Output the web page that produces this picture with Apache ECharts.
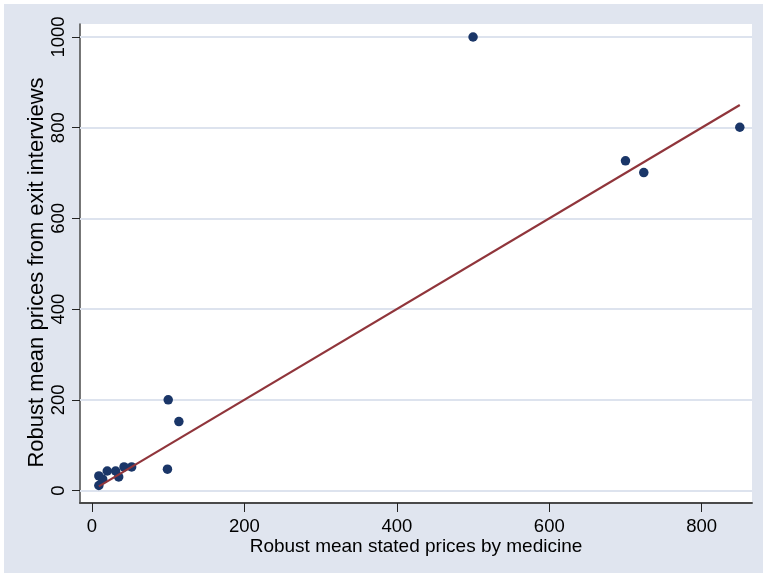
<!DOCTYPE html>
<html>
<head>
<meta charset="utf-8">
<script src="https://cdn.jsdelivr.net/npm/echarts@6/dist/echarts.min.js"></script>
<style>
html,body{margin:0;padding:0;background:#ffffff;}
#chart{width:765px;height:577px;}
</style>
</head>
<body>
<div id="chart"></div>
<script>
// Data
const statedPrices = [9, 9, 14, 20, 31, 35, 42, 52, 99, 100, 114, 500, 700, 724, 850];
const exitPrices   = [11, 32, 25, 43, 43, 30, 52, 52, 47, 200, 152, 1000, 727, 701, 801];
const lineX = [9, 850];           // 45-degree reference line (y = x) over the data range
const xTicks = [0, 200, 400, 600, 800];
const yTicks = [0, 200, 400, 600, 800, 1000];

const chart = echarts.init(document.getElementById('chart'), null, {renderer: 'canvas'});
const font = 'Liberation Sans, Arial, sans-serif';

const option = {
  backgroundColor: '#ffffff',
  animation: false,
  graphic: [{
    type: 'rect', z: -10, silent: true,
    shape: {x: 4, y: 4, width: 759, height: 569},
    style: {fill: '#e0e5ef'}
  }],
  grid: {
    left: 80, top: 24, width: 672, height: 479,
    show: true, backgroundColor: '#ffffff', borderWidth: 0
  },
  xAxis: {
    type: 'value', min: -15.75, max: 866,
    name: 'Robust mean stated prices by medicine',
    nameLocation: 'middle', nameGap: 34, nameMoveOverlap: false,
    nameTextStyle: {fontFamily: font, fontSize: 19, color: '#000'},
    axisLine: {show: true, onZero: false, lineStyle: {color: '#4a4a4a', width: 2}},
    axisTick: {show: true, inside: false, length: 9, customValues: xTicks, lineStyle: {color: '#222', width: 1}},
    axisLabel: {customValues: xTicks, margin: 14.5, fontFamily: font, fontSize: 18.5, color: '#000',
                formatter: v => String(v)},
    splitLine: {show: false}
  },
  yAxis: {
    type: 'value', min: -27.6, max: 1028.7,
    name: 'Robust mean prices from exit interviews',
    nameLocation: 'middle', nameGap: 32, nameRotate: 90, nameMoveOverlap: false,
    nameTextStyle: {fontFamily: font, fontSize: 22, color: '#000', padding: [0, 18, 0, 0]},
    axisLine: {show: true, onZero: false, lineStyle: {color: '#4a4a4a', width: 1.5}},
    axisTick: {show: true, inside: false, length: 8, customValues: yTicks, lineStyle: {color: '#222', width: 1}},
    axisLabel: {customValues: yTicks, rotate: 90, margin: 12, fontFamily: font, fontSize: 18.5, color: '#000',
                formatter: v => String(v)},
    splitLine: {show: false}
  },
  series: [
    {
      type: 'scatter', z: 3,
      symbol: 'circle', symbolSize: 9.5,
      itemStyle: {color: '#1a3668', opacity: 1},
      data: statedPrices.map((x, i) => [x, exitPrices[i]]),
      markLine: {
        z: 1, silent: true, symbol: ['none', 'none'],
        label: {show: false},
        lineStyle: {color: '#dde3ee', width: 2, type: 'solid'},
        data: yTicks.map(v => ({yAxis: v}))
      }
    },
    {
      type: 'line', z: 4, symbol: 'none',
      lineStyle: {color: '#90353b', width: 2.2},
      data: lineX.map(x => [x, x])
    }
  ]
};
chart.setOption(option);
</script>
</body>
</html>
